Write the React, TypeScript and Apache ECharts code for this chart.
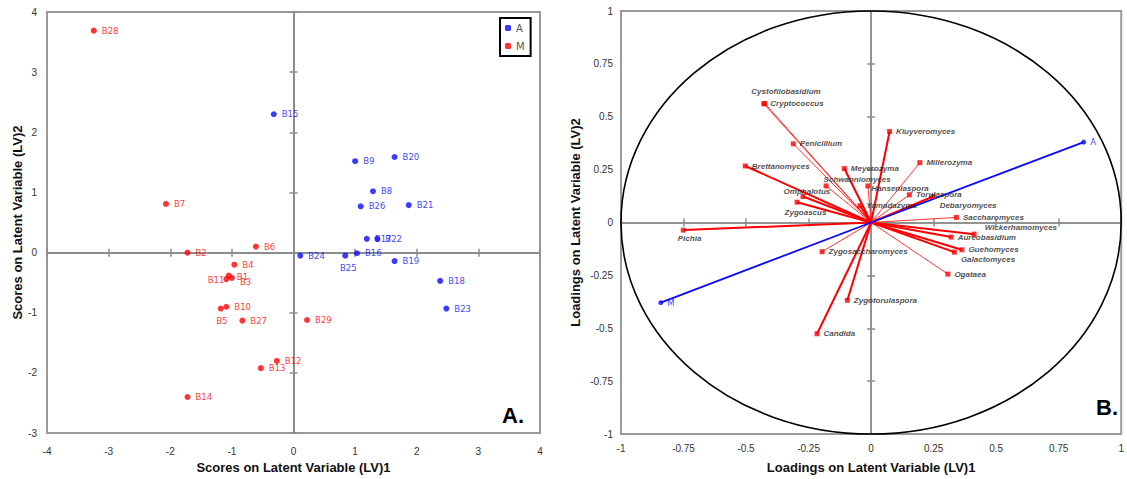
import { useEffect, useRef } from "react";
import * as echarts from "echarts";

// ---------- Panel A: scores ----------
const groupANames = ["B15", "B9", "B20", "B8", "B26", "B21", "B17", "B22", "B24", "B25", "B16", "B19", "B18", "B23"];
const groupAX = [-0.32, 1.0, 1.64, 1.29, 1.09, 1.87, 1.19, 1.36, 0.11, 0.84, 1.03, 1.64, 2.38, 2.48];
const groupAY = [2.3, 1.52, 1.59, 1.02, 0.77, 0.79, 0.23, 0.23, -0.05, -0.05, -0.01, -0.14, -0.47, -0.93];

const groupMNames = ["B28", "B7", "B2", "B6", "B4", "B11", "B1", "B3", "B10", "B5", "B27", "B29", "B12", "B13", "B14"];
const groupMX = [-3.24, -2.07, -1.72, -0.61, -0.96, -1.09, -1.05, -1.0, -1.09, -1.18, -0.83, 0.22, -0.27, -0.53, -1.72];
const groupMY = [3.69, 0.81, 0.0, 0.1, -0.2, -0.44, -0.38, -0.42, -0.9, -0.93, -1.13, -1.12, -1.8, -1.92, -2.4];

const scoreXTicks = [-4, -3, -2, -1, 0, 1, 2, 3, 4];
const scoreYTicks = [-3, -2, -1, 0, 1, 2, 3, 4];

// ---------- Panel B: loadings ----------
const loadingNames = [
  "Cystofilobasidium", "Cryptococcus", "Penicillium", "Brettanomyces", "Omphalotus", "Schwanniomyces",
  "Zygoascus", "Pichia", "Meyerozyma", "Kluyveromyces", "Millerozyma", "Hanseniaspora", "Torulaspora",
  "Debaryomyces", "Yamadazyma", "Saccharomyces", "Wickerhamomyces", "Aureobasidium", "Guehomyces",
  "Galactomyces", "Ogataea", "Zygosaccharomyces", "Zygotorulaspora", "Candida",
];
const loadingX = [
  -0.425, -0.429, -0.311, -0.503, -0.272, -0.18, -0.296, -0.751, -0.107, 0.074, 0.195, -0.013, 0.153,
  0.248, -0.045, 0.341, 0.412, 0.32, 0.363, 0.333, 0.307, -0.196, -0.095, -0.216,
];
const loadingY = [
  0.563, 0.561, 0.372, 0.267, 0.123, 0.173, 0.096, -0.036, 0.255, 0.43, 0.283, 0.173, 0.131, 0.123,
  0.079, 0.024, -0.055, -0.069, -0.129, -0.14, -0.244, -0.138, -0.368, -0.526,
];
const classNames = ["A", "M"];
const classX = [0.85, -0.841];
const classY = [0.38, -0.379];

const loadingTicks = [-1, -0.75, -0.5, -0.25, 0, 0.25, 0.5, 0.75, 1];
const circleRadius = 1;

// ---------- styles (kept apart from data) ----------
const BLUE = "#0a0aff";
const RED = "#ff0000";
const thinLoadings = new Set([
  "Cystofilobasidium", "Cryptococcus", "Penicillium", "Schwanniomyces", "Hanseniaspora",
  "Millerozyma", "Torulaspora", "Saccharomyces", "Ogataea", "Zygosaccharomyces",
]);
const scoreLabelOverrides: Record<string, any> = {
  B25: { position: "bottom", offset: [3, 0] },
  B5: { position: "bottom", offset: [1, 0] },
  B11: { position: "left", offset: [6, 1] },
  B3: { offset: [0, 4] },
  B1: { offset: [0, 2] },
};
const loadingLabelOffsets: Record<string, number[]> = {
  Cystofilobasidium: [-20, -12],
  Schwanniomyces: [-9, -6],
  Omphalotus: [-26, -5],
  Zygoascus: [-19, 10],
  Pichia: [-12, 8],
  Hanseniaspora: [-3, 3],
  Debaryomyces: [0, 9],
  Wickerhamomyces: [4, -7],
  Galactomyces: [0, 7],
};

function axisSet(
  dim: "x" | "y",
  gridIndex: number,
  ticks: number[],
  name: string,
  nameGap: number,
  labelMargin: number,
  zeroWidth: number
) {
  const base = {
    type: "value",
    gridIndex,
    min: ticks[0],
    max: ticks[ticks.length - 1],
    interval: ticks[1] - ticks[0],
    splitLine: { show: false },
    position: dim === "x" ? "bottom" : "left",
  };
  const labelAxis = {
    ...base,
    name,
    nameLocation: "middle",
    nameGap,
    nameTextStyle: { fontFamily: "Liberation Sans", fontWeight: "bold", fontSize: 13, color: "#111" },
    axisLine: { show: false, onZero: false },
    axisTick: { show: false },
    axisLabel: {
      margin: labelMargin,
      fontSize: 10,
      color: "#333",
      fontFamily: "Liberation Sans",
      showMinLabel: true,
      showMaxLabel: true,
    },
  };
  const zero = (inside: boolean) => ({
    ...base,
    axisLine: { show: true, onZero: true, lineStyle: { color: "#8c8c8c", width: zeroWidth } },
    axisTick: { show: true, inside, length: 4, lineStyle: { color: "#8c8c8c", width: 1.5 } },
    axisLabel: { show: false },
  });
  return [labelAxis, zero(false), zero(true)];
}

export default function App() {
  const ref = useRef<HTMLDivElement>(null);

  useEffect(() => {
    if (!ref.current) return;
    const chart = echarts.init(ref.current, null, { renderer: "svg" });

    const scorePoints = (names: string[], xs: number[], ys: number[]) =>
      names.map((n, i) => ({
        name: n,
        value: [xs[i], ys[i]],
        label: scoreLabelOverrides[n] || undefined,
      }));

    const loadingPoints = loadingNames.map((n, i) => ({
      name: n,
      value: [loadingX[i], loadingY[i]],
      label: loadingLabelOffsets[n] ? { offset: loadingLabelOffsets[n] } : undefined,
    }));

    const option: any = {
      animation: false,
      backgroundColor: "#ffffff",
      grid: [
        { left: 47, top: 12, width: 493, height: 423, show: true, borderColor: "#9a9a9a", borderWidth: 2, containLabel: false },
        { left: 621, top: 11, width: 506, height: 423, show: true, borderColor: "#9a9a9a", borderWidth: 2, containLabel: false },
      ],
      xAxis: [
        ...axisSet("x", 0, scoreXTicks, "Scores on Latent Variable (LV)1", 26, 13, 2),
        ...axisSet("x", 1, loadingTicks, "Loadings on Latent Variable (LV)1", 27, 9, 1.5),
      ],
      yAxis: [
        ...axisSet("y", 0, scoreYTicks, "Scores on Latent Variable (LV)2", 23, 10, 2),
        ...axisSet("y", 1, loadingTicks, "Loadings on Latent Variable (LV)2", 39, 8, 1.5),
      ],
      legend: {
        data: ["A", "M"],
        left: 500,
        top: 18,
        orient: "vertical",
        padding: [5, 6, 5, 5],
        itemWidth: 6,
        itemHeight: 6,
        itemGap: 8,
        itemTextGap: 3,
        icon: "roundRect",
        borderColor: "#000",
        borderWidth: 2,
        backgroundColor: "#fff",
        textStyle: { fontSize: 10, color: "#555", fontFamily: "DejaVu Sans" },
      },
      graphic: [
        {
          type: "text",
          left: 502,
          top: 404,
          style: { text: "A.", fontSize: 22, fontWeight: "bold", fontFamily: "Liberation Sans", fill: "#000" },
        },
        {
          type: "text",
          left: 1096,
          top: 396,
          style: { text: "B.", fontSize: 22, fontWeight: "bold", fontFamily: "Liberation Sans", fill: "#000" },
        },
      ],
      series: [
        {
          name: "A",
          type: "scatter",
          xAxisIndex: 0,
          yAxisIndex: 0,
          symbol: "circle",
          symbolSize: 6,
          itemStyle: { color: BLUE },
          label: { show: true, formatter: "{b}", position: "right", distance: 5, color: BLUE, fontSize: 8.5, fontFamily: "DejaVu Sans" },
          data: scorePoints(groupANames, groupAX, groupAY),
          z: 5,
        },
        {
          name: "M",
          type: "scatter",
          xAxisIndex: 0,
          yAxisIndex: 0,
          symbol: "circle",
          symbolSize: 6,
          itemStyle: { color: RED },
          label: { show: true, formatter: "{b}", position: "right", distance: 5, color: RED, fontSize: 8.5, fontFamily: "DejaVu Sans" },
          data: scorePoints(groupMNames, groupMX, groupMY),
          z: 5,
        },
        {
          name: "circle",
          type: "custom",
          xAxisIndex: 3,
          yAxisIndex: 3,
          silent: true,
          data: [[0, 0]],
          renderItem: (_params: any, api: any) => {
            const c = api.coord([0, 0]);
            const s = api.size([circleRadius, circleRadius]);
            return {
              type: "ellipse",
              shape: { cx: c[0], cy: c[1], rx: s[0], ry: s[1] },
              style: { fill: "none", stroke: "#000", lineWidth: 1.6 },
            };
          },
          z: 3,
        },
        {
          name: "vectors",
          type: "lines",
          coordinateSystem: "cartesian2d",
          xAxisIndex: 3,
          yAxisIndex: 3,
          silent: true,
          symbol: "none",
          lineStyle: { color: RED, opacity: 1 },
          data: loadingNames.map((n, i) => ({
            coords: [[0, 0], [loadingX[i], loadingY[i]]],
            lineStyle: { width: thinLoadings.has(n) ? 0.8 : 2, color: RED, opacity: 1 },
          })),
          z: 4,
        },
        {
          name: "classVectors",
          type: "lines",
          coordinateSystem: "cartesian2d",
          xAxisIndex: 3,
          yAxisIndex: 3,
          silent: true,
          symbol: "none",
          data: classNames.map((n, i) => ({
            coords: [[0, 0], [classX[i], classY[i]]],
            lineStyle: { width: 1.8, color: BLUE, opacity: 1 },
          })),
          z: 4,
        },
        {
          name: "Loadings",
          type: "scatter",
          xAxisIndex: 3,
          yAxisIndex: 3,
          symbol: "rect",
          symbolSize: 5,
          itemStyle: { color: RED },
          label: {
            show: true,
            formatter: "{b}",
            position: "right",
            distance: 4,
            color: "#222",
            fontSize: 8,
            fontStyle: "italic",
            fontWeight: "bold",
            fontFamily: "Liberation Sans",
          },
          data: loadingPoints,
          z: 5,
        },
        {
          name: "Classes",
          type: "scatter",
          xAxisIndex: 3,
          yAxisIndex: 3,
          symbol: "circle",
          symbolSize: 5,
          itemStyle: { color: BLUE },
          label: { show: true, formatter: "{b}", position: "right", distance: 4, color: BLUE, fontSize: 8.5, fontFamily: "DejaVu Sans" },
          data: classNames.map((n, i) => ({ name: n, value: [classX[i], classY[i]] })),
          z: 5,
        },
      ],
    };

    chart.setOption(option);
    return () => chart.dispose();
  }, []);

  return (
    <div
      ref={ref}
      style={{ position: "absolute", left: 0, top: 0, width: 1127, height: 479, background: "#fff" }}
    />
  );
}
